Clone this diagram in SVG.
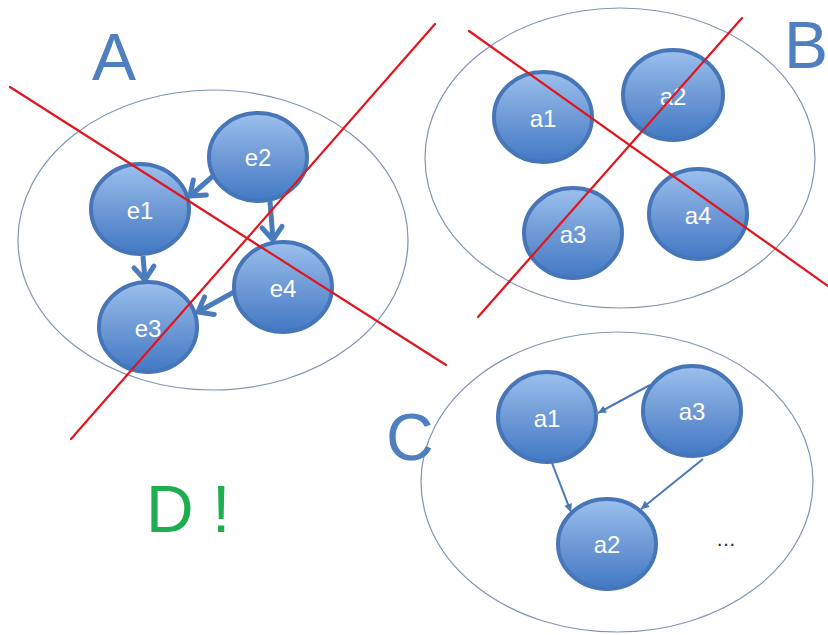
<svg xmlns="http://www.w3.org/2000/svg" width="828" height="635" viewBox="0 0 828 635">
<style>
.grp{fill:none;stroke:#8095b3;stroke-width:1.2}
.node{fill:url(#ng);stroke:#4676b8;stroke-width:4}
.lbl{font-family:"Liberation Sans",Arial,sans-serif;font-size:24px;fill:#ffffff;text-anchor:middle}
.big{font-family:"Liberation Sans",Arial,sans-serif;font-size:66px;fill:#4f7fc0}
.cross{stroke:#e0161e;stroke-width:2.2;stroke-linecap:round}
.thick{stroke:#4a7bbd;stroke-width:5;fill:none;marker-end:url(#ah)}
.thin{stroke:#4a78b5;stroke-width:2;fill:none;marker-end:url(#as)}
</style>
<defs>
<linearGradient id="ng" x1="0" y1="0" x2="0" y2="1">
<stop offset="0" stop-color="#9cc0ee"/>
<stop offset="0.5" stop-color="#6f9ad6"/>
<stop offset="1" stop-color="#4279c4"/>
</linearGradient>
<marker id="ah" markerUnits="userSpaceOnUse" markerWidth="26" markerHeight="26" viewBox="0 0 26 26" refX="20" refY="13" orient="auto">
<path d="M7,3 L20,13 L7,23" fill="none" stroke="#4a7bbd" stroke-width="5" stroke-linecap="round" stroke-linejoin="round"/>
</marker>
<marker id="as" markerUnits="userSpaceOnUse" markerWidth="10" markerHeight="10" viewBox="0 0 10 10" refX="9" refY="5" orient="auto">
<path d="M1,1 L9,5 L1,9 z" fill="#4a78b5"/>
</marker>
</defs>
<rect width="828" height="635" fill="#ffffff"/>

<g id="groupA">
<ellipse class="grp" cx="213" cy="240" rx="195" ry="150"/>
<text class="big" x="92" y="80">A</text>
</g>
<g id="groupB">
<ellipse class="grp" cx="620" cy="158" rx="195" ry="150"/>
<text class="big" x="784" y="68">B</text>
</g>
<g id="groupC">
<ellipse class="grp" cx="617" cy="482" rx="196" ry="150"/>
<text class="big" x="386" y="460">C</text>
</g>

<g id="connectors">
<path class="thick" d="M213,176 L190,196"/>
<path class="thick" d="M270,201 L273,240"/>
<path class="thick" d="M143,256 L145,280"/>
<path class="thick" d="M234,292 L198,312"/>
<path class="thin" d="M650,385 L598,413"/>
<path class="thin" d="M552,463 L571,512"/>
<path class="thin" d="M703,459 L641,509"/>
</g>

<g id="e2"><ellipse class="node" cx="258" cy="157" rx="49" ry="44"/><text class="lbl" x="258" y="166">e2</text></g>
<g id="e1"><ellipse class="node" cx="140" cy="209" rx="49" ry="45"/><text class="lbl" x="140" y="219">e1</text></g>
<g id="e3"><ellipse class="node" cx="148" cy="327" rx="49" ry="45"/><text class="lbl" x="148" y="337">e3</text></g>
<g id="e4"><ellipse class="node" cx="283" cy="287" rx="49" ry="45"/><text class="lbl" x="283" y="297">e4</text></g>

<g id="b_a1"><ellipse class="node" cx="543" cy="117" rx="49" ry="45"/><text class="lbl" x="543" y="127">a1</text></g>
<g id="b_a2"><ellipse class="node" cx="673" cy="95" rx="50" ry="45"/><text class="lbl" x="673" y="105">a2</text></g>
<g id="b_a3"><ellipse class="node" cx="573" cy="233" rx="49" ry="45"/><text class="lbl" x="573" y="243">a3</text></g>
<g id="b_a4"><ellipse class="node" cx="698" cy="214" rx="49" ry="45"/><text class="lbl" x="698" y="224">a4</text></g>

<g id="c_a1"><ellipse class="node" cx="547" cy="417" rx="49" ry="45"/><text class="lbl" x="547" y="427">a1</text></g>
<g id="c_a3"><ellipse class="node" cx="692" cy="411" rx="49" ry="45"/><text class="lbl" x="692" y="420">a3</text></g>
<g id="c_a2"><ellipse class="node" cx="607" cy="544" rx="49" ry="45"/><text class="lbl" x="607" y="553">a2</text></g>
<text x="726" y="546" font-family="'Liberation Sans',Arial,sans-serif" font-size="20" fill="#222" text-anchor="middle">…</text>

<g id="crosses">
<line class="cross" x1="10" y1="87" x2="446" y2="365"/>
<line class="cross" x1="435" y1="24" x2="71" y2="439"/>
<line class="cross" x1="469" y1="31" x2="828" y2="286"/>
<line class="cross" x1="742" y1="18" x2="478" y2="317"/>
</g>

<text x="146" y="532" font-family="'Liberation Sans',Arial,sans-serif" font-size="66" fill="#1fae4e">D !</text>
</svg>
